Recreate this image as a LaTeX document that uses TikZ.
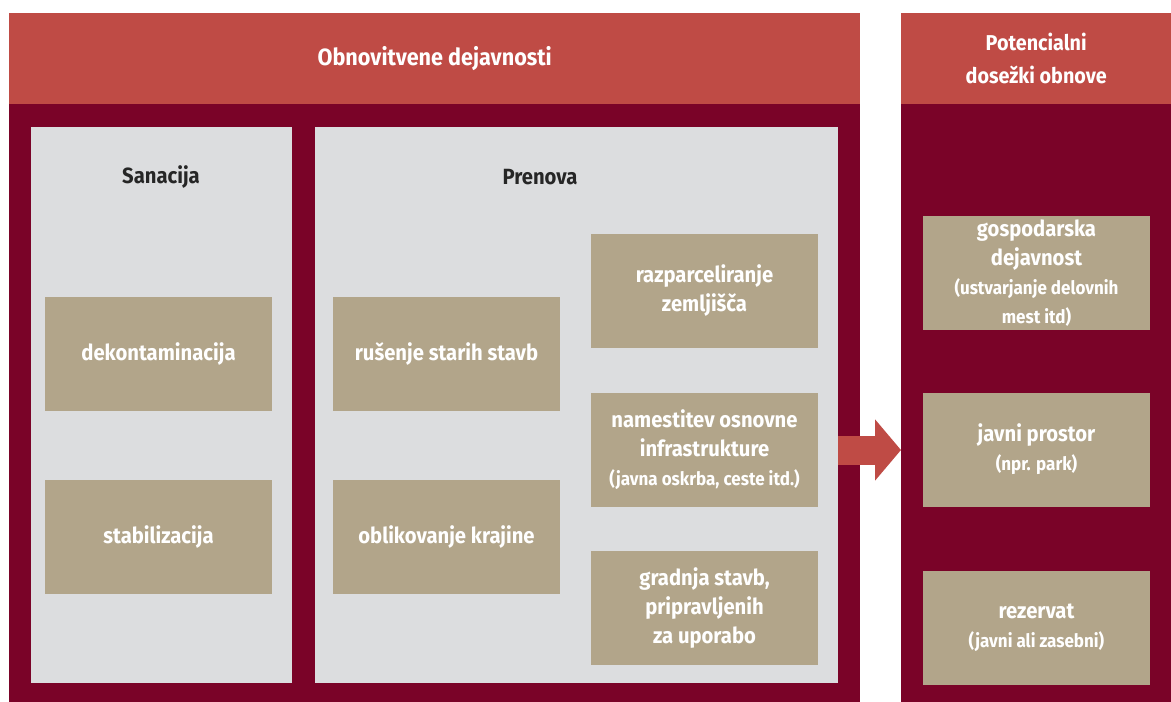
\documentclass[tikz,border=0pt]{standalone}
\usepackage{fontspec}
\setmainfont{Fira Sans}[FakeStretch=0.92]
\usepackage{tikz}
\usetikzlibrary{arrows.meta}

\definecolor{glava}{HTML}{BF4B45}
\definecolor{bordo}{HTML}{7A0328}
\definecolor{siva}{HTML}{DCDDDF}
\definecolor{bez}{HTML}{B2A58A}

\newcommand{\opis}[1]{{\fontsize{18.5}{27}\selectfont #1}}

\tikzset{
	blok/.style={rectangle,inner sep=0pt,anchor=north west,text=white},
	glavablok/.style={blok,fill=glava,align=center,font=\bfseries\fontsize{21.5}{33}\selectfont},
	telo/.style={blok,fill=bordo},
	plosca/.style={blok,fill=siva},
	naslov/.style={text=black!85,font=\bfseries\fontsize{22}{26}\selectfont},
	polje/.style={rectangle,fill=bez,inner sep=0pt,minimum width=227pt,minimum height=114pt,
		text=white,align=center,font=\bfseries\fontsize{22}{29}\selectfont},
	puscica/.style={draw=glava,line width=29pt,-{Triangle[length=26pt,width=60pt]}}
}

\begin{document}
\begin{tikzpicture}[x=1pt,y=-1pt]
	\useasboundingbox (0,0) rectangle (1171,702);
	
	% leva stran
	\node[glavablok,minimum width=851pt,minimum height=91pt,font=\bfseries\fontsize{23.5}{30}\selectfont](g1)at(9,13) {Obnovitvene dejavnosti};
	\node[telo,minimum width=851pt,minimum height=598pt](t1)at(9,104) {};
	\node[plosca,minimum width=261pt,minimum height=556pt](san)at(31,127) {};
	\node[plosca,minimum width=523pt,minimum height=556pt](pre)at(315,127) {};
	\node[naslov](sanN)at(161,177) {Sanacija};
	\node[naslov](preN)at(540,177) {Prenova};
	
	% desna stran
	\node[glavablok,minimum width=270pt,minimum height=91pt](g2)at(901,13) {Potencialni\\dosežki obnove};
	\node[telo,minimum width=270pt,minimum height=598pt](t2)at(901,104) {};
	
	% polja
	\node[polje](dek)at(158.5,354) {dekontaminacija};
	\node[polje](sta)at(158.5,537) {stabilizacija};
	\node[polje](rus)at(446.5,354) {rušenje starih stavb};
	\node[polje](obl)at(446.5,537) {oblikovanje krajine};
	\node[polje](raz)at(704.5,291) {razparceliranje\\zemljišča};
	\node[polje](nam)at(704.5,450) {namestitev osnovne\\infrastrukture\\\opis{(javna oskrba, ceste itd.)}};
	\node[polje](gra)at(704.5,608) {gradnja stavb,\\pripravljenih\\za uporabo};
	\node[polje](gos)at(1036.5,273) {gospodarska\\dejavnost\\\opis{(ustvarjanje delovnih}\\\opis{mest itd)}};
	\node[polje](jav)at(1036.5,449.5) {javni prostor\\\opis{(npr. park)}};
	\node[polje](rez)at(1036.5,628) {rezervat\\\opis{(javni ali zasebni)}};
	
	\draw[puscica](pre.east |- nam.center) -- (t2.west |- nam.center);
\end{tikzpicture}
\end{document}
